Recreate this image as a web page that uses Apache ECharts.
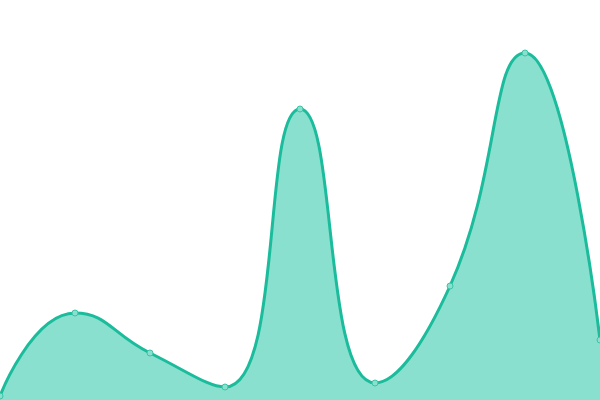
<!DOCTYPE html>
<html>
<head>
<meta charset="utf-8">
<script src="https://cdn.jsdelivr.net/npm/echarts@6/dist/echarts.min.js"></script>
<style>html,body{margin:0;padding:0;background:#fff}#c{width:600px;height:400px}</style>
</head>
<body>
<div id="c"></div>
<script>
const categories = ['1', '2', '3', '4', '5', '6', '7', '8', '9'];
const values = [4, 87, 47, 13, 291, 17, 114, 347, 60];

const chart = echarts.init(document.getElementById('c'));
chart.setOption({
  animation: false,
  grid: { left: 0, right: 0, top: 0, bottom: 0 },
  xAxis: { type: 'category', data: categories, boundaryGap: false, show: false },
  yAxis: { type: 'value', min: 0, max: 400, show: false },
  series: [{
    type: 'line',
    data: values,
    smooth: true,
    symbol: 'circle',
    symbolSize: 6,
    lineStyle: { color: '#1abc9c', width: 3 },
    itemStyle: { color: '#8ae0cf', borderColor: '#3cc4a6', borderWidth: 1 },
    areaStyle: { color: '#8ae0cf', opacity: 1 }
  }]
});
</script>
</body>
</html>
